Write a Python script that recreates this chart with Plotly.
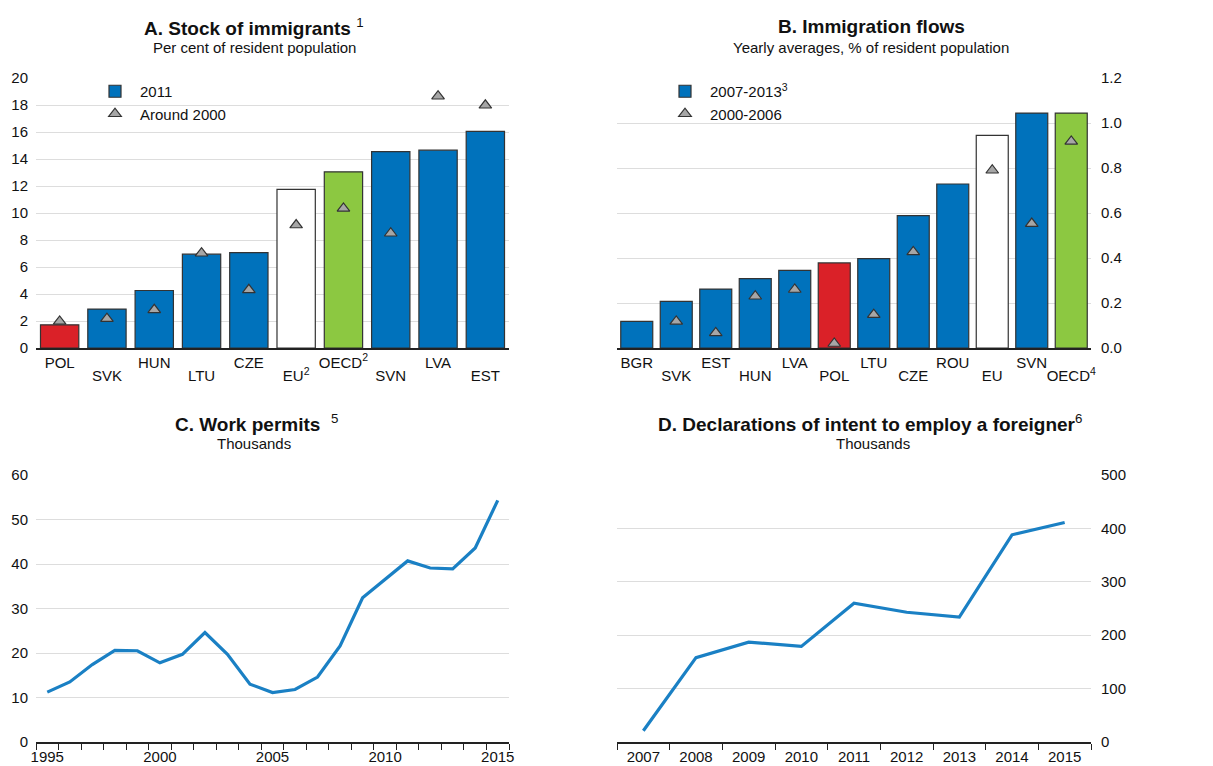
import plotly.graph_objects as go
from plotly.subplots import make_subplots

# Panel A: stock of immigrants, % of resident population
stock_countries = ["POL", "SVK", "HUN", "LTU", "CZE", "EU", "OECD", "SVN", "LVA", "EST"]
stock_labels = ["POL", "SVK", "HUN", "LTU", "CZE", "EU<sup>2</sup>", "OECD<sup>2</sup>", "SVN", "LVA", "EST"]
stock_2011 = [1.72, 2.88, 4.26, 6.95, 7.07, 11.75, 13.05, 14.55, 14.65, 16.05]
stock_2000 = [1.97, 2.17, 2.83, 7.02, 4.31, 9.11, 10.34, 8.5, 18.65, 17.98]

# Panel B: immigration flows, yearly averages, % of resident population
flow_countries = ["BGR", "SVK", "EST", "HUN", "LVA", "POL", "LTU", "CZE", "ROU", "EU", "SVN", "OECD"]
flow_labels = ["BGR", "SVK", "EST", "HUN", "LVA", "POL", "LTU", "CZE", "ROU", "EU", "SVN", "OECD<sup>4</sup>"]
flow_0713 = [0.118, 0.207, 0.262, 0.308, 0.345, 0.378, 0.397, 0.588, 0.729, 0.945, 1.044, 1.044]
flow_0006 = [None, 0.118, 0.067, 0.23, 0.26, 0.02, 0.148, 0.427, None, 0.79, 0.553, 0.918]

# Panel C: work permits, thousands
permit_years = list(range(1995, 2016))
permits = [11.2, 13.5, 17.4, 20.6, 20.5, 17.8, 19.7, 24.6, 19.7, 13.0, 11.1,
           11.8, 14.6, 21.6, 32.4, 36.5, 40.7, 39.1, 38.9, 43.6, 54.3]

# Panel D: declarations of intent to employ a foreigner, thousands
decl_years = list(range(2007, 2016))
declarations = [21, 158, 187, 179, 260, 243, 234, 388, 411]

BLUE = "#0072BC"
RED = "#DA2128"
GREEN = "#8CC841"
GREY = "#A6A6A6"
LINE_BLUE = "#1A80C4"
FONT = "Liberation Sans"
PAGE_W, PAGE_H = 1213, 766
OFF = 8  # the page body margin shifts the figure by this much
W, H = PAGE_W - OFF, PAGE_H - OFF


def bar_colors(names):
    out = []
    for n in names:
        if n == "POL":
            out.append(RED)
        elif n == "OECD":
            out.append(GREEN)
        elif n == "EU":
            out.append("white")
        else:
            out.append(BLUE)
    return out


fig = make_subplots(rows=2, cols=2)

bar_line = dict(width=1.2, color="#333333")
tri = dict(symbol="triangle-up", size=11, color=GREY, line=dict(width=1.2, color="#333333"))

# panel A
fig.add_trace(go.Bar(x=stock_countries, y=stock_2011, showlegend=False,
                     marker_color=bar_colors(stock_countries), marker_line=bar_line), row=1, col=1)
fig.add_trace(go.Bar(x=[None], y=[None], name="2011", marker_color=BLUE, marker_line=bar_line,
                     legend="legend"), row=1, col=1)  # legend swatch only
fig.add_trace(go.Scatter(x=stock_countries, y=stock_2000, name="Around 2000", mode="markers",
                         marker=tri, legend="legend"), row=1, col=1)

# panel B
fig.add_trace(go.Bar(x=flow_countries, y=flow_0713, showlegend=False,
                     marker_color=bar_colors(flow_countries), marker_line=bar_line), row=1, col=2)
fig.add_trace(go.Bar(x=[None], y=[None], name="2007-2013<sup>3</sup>", marker_color=BLUE,
                     marker_line=bar_line, legend="legend2"), row=1, col=2)
fig.add_trace(go.Scatter(x=flow_countries, y=flow_0006, name="2000-2006", mode="markers",
                         marker=tri, legend="legend2"), row=1, col=2)

# panels C and D
fig.add_trace(go.Scatter(x=permit_years, y=permits, mode="lines", showlegend=False,
                         line=dict(color=LINE_BLUE, width=3.2)), row=2, col=1)
fig.add_trace(go.Scatter(x=decl_years, y=declarations, mode="lines", showlegend=False,
                         line=dict(color=LINE_BLUE, width=3.2)), row=2, col=2)

# second-row country labels live on overlay axes (x5 over x, x6 over x2)
fig.add_trace(go.Scatter(x=[None], y=[None], xaxis="x5", yaxis="y", showlegend=False, hoverinfo="skip"))
fig.add_trace(go.Scatter(x=[None], y=[None], xaxis="x6", yaxis="y2", showlegend=False, hoverinfo="skip"))


def px_x(a, b):
    return [(a - OFF) / W, (b - OFF) / W]


def px_y(top, bottom):
    return [1 - (bottom - OFF) / H, 1 - (top - OFF) / H]


tick_font = dict(family=FONT, size=15, color="#111111")
grid = dict(showgrid=True, gridcolor="#DDDDDD", gridwidth=1, zeroline=False, automargin=False)
xline = dict(showline=True, linecolor="#222222", linewidth=1.5, ticks="", tickfont=tick_font,
             automargin=False, tickangle=0)
minor_ticks = dict(ticks="outside", ticklen=6, tickcolor="#222222", tickwidth=1)


def row_axes(labels, domain, anchor, overlay):
    n = len(labels)
    idx = list(range(n))
    upper = [lab if i % 2 == 0 else "" for i, lab in enumerate(labels)]
    lower = [lab if i % 2 == 1 else "" for i, lab in enumerate(labels)]
    top = dict(domain=domain, range=[-0.5, n - 0.5], tickmode="array", ticktext=upper, **xline)
    bottom = dict(domain=domain, range=[-0.5, n - 0.5], tickvals=idx, ticktext=lower,
                  overlaying=overlay, anchor=anchor, side="bottom", showline=False, showgrid=False,
                  zeroline=False, ticks="", tickfont=tick_font, automargin=False, tickangle=0,
                  ticklabelstandoff=17)
    return top, bottom


xa, xa_low = row_axes(stock_labels, px_x(36, 509), "y", "x")
xa["tickvals"] = stock_countries
xb, xb_low = row_axes(flow_labels, px_x(617, 1091), "y2", "x2")
xb["tickvals"] = flow_countries

fig.update_layout(
    xaxis=xa,
    xaxis5=xa_low,
    yaxis=dict(domain=px_y(78, 348), range=[0, 20], dtick=2, tickfont=tick_font,
               ticklabelstandoff=7, **grid),
    xaxis2=xb,
    xaxis6=xb_low,
    yaxis2=dict(domain=px_y(78, 348), range=[0, 1.2], dtick=0.2, tickformat=".1f", side="right",
                tickfont=tick_font, ticklabelstandoff=9, **grid),
    xaxis3=dict(domain=px_x(36, 509), range=[1994.5, 2015.5], tickvals=[1995, 2000, 2005, 2010, 2015],
                minor=dict(tickvals=[y - 0.5 for y in permit_years + [2016]], **minor_ticks), **xline),
    yaxis3=dict(domain=px_y(475, 742), range=[0, 60], dtick=10, tickfont=tick_font,
                ticklabelstandoff=7, **grid),
    xaxis4=dict(domain=px_x(617, 1091), range=[2006.5, 2015.5], tickvals=decl_years,
                minor=dict(tickvals=[y - 0.5 for y in decl_years + [2016]], **minor_ticks), **xline),
    yaxis4=dict(domain=px_y(475, 742), range=[0, 500], dtick=100, side="right",
                tickfont=tick_font, ticklabelstandoff=9, **grid),
    barmode="overlay",
    bargap=0.19,
    width=W, height=H,
    margin=dict(l=0, r=0, t=0, b=0),
    plot_bgcolor="white", paper_bgcolor="white",
    font=dict(family=FONT, color="#111111"),
    legend=dict(x=(90 - OFF) / W, y=1 - (75 - OFF) / H, xanchor="left", yanchor="top",
                bgcolor="rgba(0,0,0,0)", font=dict(family=FONT, size=15), tracegroupgap=0, itemwidth=40),
    legend2=dict(x=(660 - OFF) / W, y=1 - (75 - OFF) / H, xanchor="left", yanchor="top",
                 bgcolor="rgba(0,0,0,0)", font=dict(family=FONT, size=15), tracegroupgap=0, itemwidth=40),
)

titles = [
    (254, 27, "<b>A. Stock of immigrants</b> <sup>1</sup>", 19),
    (254, 47, "Per cent of resident population", 15),
    (871, 27, "<b>B. Immigration flows</b>", 19),
    (871, 47, "Yearly averages, % of resident population", 15),
    (256, 423, "<b>C. Work permits</b>  <sup>5</sup>", 19),
    (254, 443, "Thousands", 15),
    (870, 423, "<b>D. Declarations of intent to employ a foreigner</b><sup>6</sup>", 19),
    (873, 443, "Thousands", 15),
]
for x, y, text, size in titles:
    fig.add_annotation(x=(x - OFF) / W, y=1 - (y - OFF) / H, xref="paper", yref="paper", text=text,
                       showarrow=False, xanchor="center", yanchor="middle",
                       font=dict(family=FONT, size=size, color="#111111"))

fig.write_html("out.html")
